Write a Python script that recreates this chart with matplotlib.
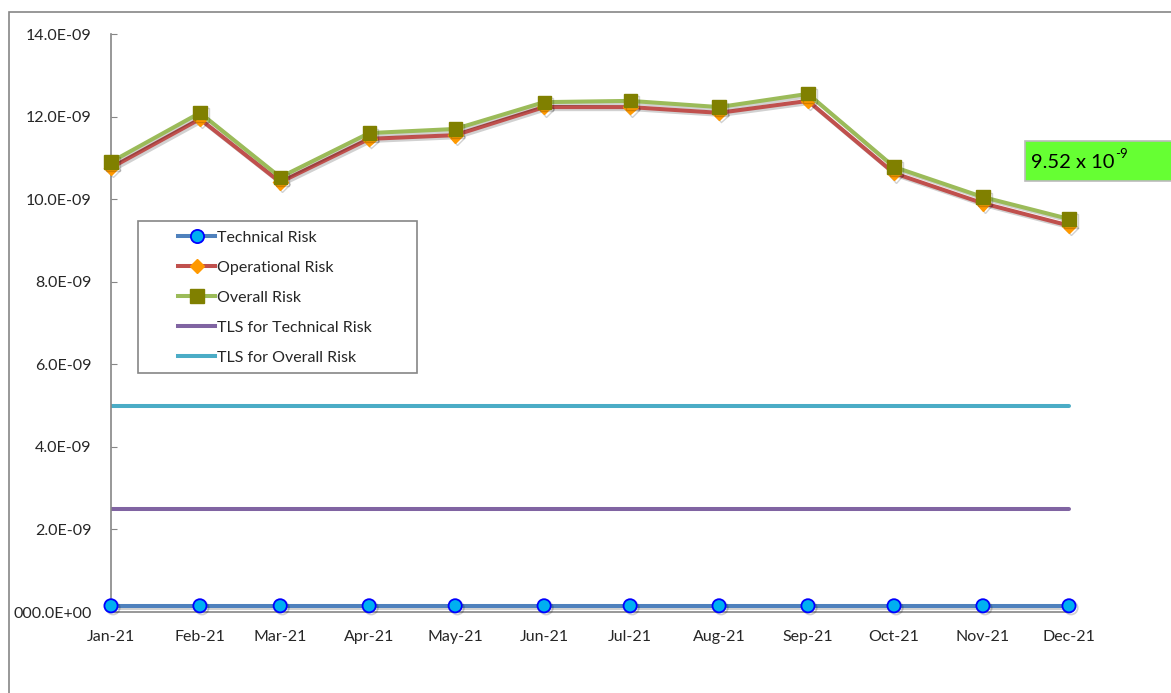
import numpy as np
import pandas as pd
import matplotlib
matplotlib.use("Agg")
import matplotlib.pyplot as plt
import matplotlib.dates as mdates
import matplotlib.patheffects as pe
from matplotlib.lines import Line2D
from matplotlib.patches import Rectangle

plt.rcParams['font.family'] = ['Lato', 'DejaVu Sans']

# --- datos (valores x 1e-9) ---
months = pd.date_range('2021-01-01', periods=12, freq='MS')
technical = [0.15, 0.15, 0.15, 0.15, 0.15, 0.15, 0.15, 0.15, 0.15, 0.15, 0.15, 0.15]
operational = [10.76, 11.94, 10.41, 11.46, 11.55, 12.23, 12.23, 12.09, 12.38, 10.63, 9.90, 9.36]
overall = [10.90, 12.09, 10.53, 11.60, 11.70, 12.35, 12.38, 12.23, 12.55, 10.78, 10.05, 9.52]
tls_technical = [2.5] * 12
tls_overall = [5.0] * 12

ytick_vals = [0, 2, 4, 6, 8, 10, 12, 14]
ytick_labels = ['000.0E+00', '2.0E-09', '4.0E-09', '6.0E-09', '8.0E-09',
                '10.0E-09', '12.0E-09', '14.0E-09']
annot_base, annot_exp = '9.52 x 10', '-9'

W, H = 1171, 693
fig = plt.figure(figsize=(W / 100, H / 100), dpi=100)
ax = fig.add_axes([111 / W, 1 - 612 / H, (1071 - 111) / W, (612 - 34) / H])

shadow = [pe.SimpleLineShadow(offset=(1.5, -1.5), shadow_color='k', alpha=0.18), pe.Normal()]
text_color = '#262626'
gray = '#868686'
fs = 11.5

ax.plot(months, tls_overall, color='#4BACC6', lw=2.9, solid_capstyle='round', zorder=2)
ax.plot(months, tls_technical, color='#8064A2', lw=2.9, solid_capstyle='round', zorder=2)
ax.plot(months, technical, color='#4F81BD', lw=2.9, marker='o', ms=9.5,
        mfc='#00B0F0', mec='#0000FF', mew=1.3, clip_on=False, zorder=3,
        path_effects=shadow)
ax.plot(months, operational, color='#C0504D', lw=2.9, marker='D', ms=7.5,
        mfc='#FF9900', mec='#FF9900', clip_on=False, zorder=3,
        path_effects=shadow)
ax.plot(months, overall, color='#9BBB59', lw=2.9, marker='s', ms=9.5,
        mfc='#808000', mec='#808000', clip_on=False, zorder=4,
        path_effects=shadow)

ax.set_xlim(months[0], months[-1] + pd.Timedelta(days=0.7))
ax.set_ylim(0, 14)
ax.set_yticks(ytick_vals)
ax.set_yticklabels(ytick_labels)
ax.set_xticks(months)
ax.xaxis.set_major_formatter(mdates.DateFormatter('%b-%y'))

for s in ['top', 'right']:
    ax.spines[s].set_visible(False)
for s in ['left', 'bottom']:
    ax.spines[s].set_color(gray)
    ax.spines[s].set_linewidth(1.2)

ax.tick_params(axis='y', direction='in', length=4, color=gray, labelsize=fs,
               labelcolor=text_color, pad=14)
ax.tick_params(axis='x', length=0, labelsize=fs, labelcolor=text_color, pad=13)

# leyenda con marco propio
handles = [
    Line2D([], [], color='#4F81BD', lw=2.9, marker='o', ms=9.5, mfc='#00B0F0', mec='#0000FF', mew=1.3),
    Line2D([], [], color='#C0504D', lw=2.9, marker='D', ms=7.5, mfc='#FF9900', mec='#FF9900'),
    Line2D([], [], color='#9BBB59', lw=2.9, marker='s', ms=9.5, mfc='#808000', mec='#808000'),
    Line2D([], [], color='#8064A2', lw=2.9),
    Line2D([], [], color='#4BACC6', lw=2.9),
]
labels = ['Technical Risk', 'Operational Risk', 'Overall Risk',
          'TLS for Technical Risk', 'TLS for Overall Risk']
leg = fig.legend(handles, labels, loc='upper left',
                 bbox_to_anchor=(165 / W, 1 - 218 / H), frameon=False,
                 fontsize=fs, handlelength=2.35, handletextpad=0.12,
                 labelspacing=0.99, borderpad=0.3, labelcolor=text_color)
fig.patches.append(Rectangle((138 / W, 1 - 373 / H), (417 - 138) / W, (373 - 221) / H,
                             transform=fig.transFigure, fill=True, facecolor='white',
                             edgecolor=gray, lw=1.2, zorder=0))

# etiqueta del valor final
fig.patches.append(Rectangle((1025 / W, 1 - 181 / H), 0.2, 40 / H,
                             transform=fig.transFigure, facecolor='#66FF33',
                             edgecolor='#BBBBBB', lw=1.2))
t = fig.text(1031 / W, 1 - 162 / H, annot_base, fontsize=14.5, color='black',
             va='center', ha='left')
fig.canvas.draw()
bb = t.get_window_extent()
fig.text(bb.x1 / W + 1 / W, 1 - 160 / H, annot_exp, fontsize=9.5, color='black',
         va='bottom', ha='left')

# borde exterior
fig.patches.append(Rectangle((9 / W, -0.1), 1.2, 1.1 - 12 / H, transform=fig.transFigure,
                             fill=False, edgecolor=gray, lw=1.2, zorder=-1))

fig.savefig('out.png', dpi=100)
